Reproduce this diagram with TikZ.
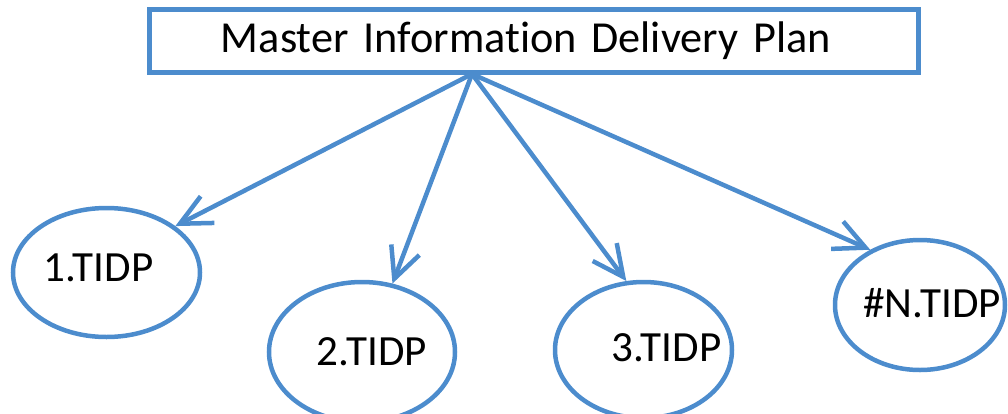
\documentclass[tikz,border=0pt]{standalone}
\usepackage{fontspec}
\setmainfont{Carlito}[Ligatures=CommonOff]
\usetikzlibrary{arrows.meta,shapes.geometric}
\definecolor{planblue}{RGB}{76,140,205}

\begin{document}
\begin{tikzpicture}[x=0.2mm,y=-0.2mm,
	planbox/.style={draw=planblue,line width=1mm,rectangle,minimum height=12.6mm,
		text width=125.2mm,inner xsep=14.2mm,align=left,font=\fontsize{25.2}{30}\selectfont},
	tidp/.style={draw=planblue,line width=0.9mm,ellipse,inner sep=0pt},
	tidptext/.style={inner sep=0pt,font=\fontsize{24.5}{29}\selectfont},
	feed/.style={draw=planblue,line width=0.9mm,line cap=round,
		-{Straight Barb[length=6.2mm,width=6mm]}}]
	\useasboundingbox (0,0) rectangle (1008,413);
	% master plan
	\node[planbox] (mdp) at (534,40.5) {Master Information Delivery Plan};
	\coordinate (hub) at (472,74);
	% TIDPs
	\node[tidp,minimum width=37.4mm,minimum height=25.8mm] (e1) at (106.5,272.5) {};
	\node[tidptext] (t1) at (98.5,268) {1.TIDP};
	\node[tidp,minimum width=37.2mm,minimum height=28mm] (e2) at (362,352) {};
	\node[tidptext] (t2) at (372,352) {2.TIDP};
	\node[tidp,minimum width=35.4mm,minimum height=27.2mm] (e3) at (643.5,350) {};
	\node[tidptext] (t3) at (666.5,348) {3.TIDP};
	\node[tidp,minimum width=34mm,minimum height=26mm] (eN) at (920,305) {};
	\node[tidptext] (tN) at (932,303) {\#N.TIDP};
	% arrows
	\draw[feed] (hub) -- (e1.34);
	\draw[feed] (hub) -- (e2.66);
	\draw[feed] (hub) -- (e3.104);
	\draw[feed] (hub) -- (eN.132);
\end{tikzpicture}
\end{document}
